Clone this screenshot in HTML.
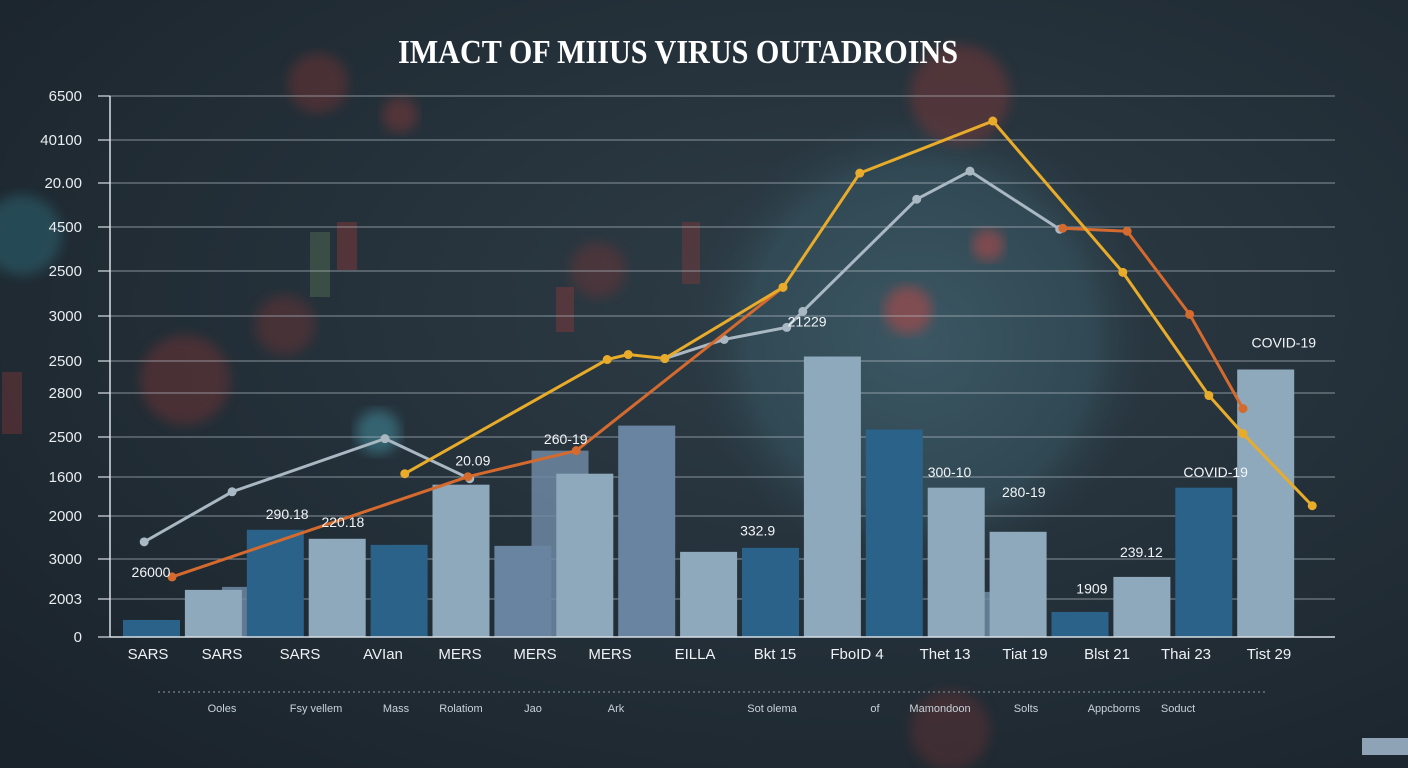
<!DOCTYPE html>
<html><head><meta charset="utf-8"><style>
html,body{margin:0;padding:0;background:#1e2830;}
svg{display:block;font-family:"Liberation Sans",sans-serif;}
</style></head><body>
<svg id="chart" width="1408" height="768" viewBox="0 0 1408 768">
<defs>
<radialGradient id="bg" cx="0.6" cy="0.4" r="0.8">
<stop offset="0" stop-color="#2e3d47"/><stop offset="1" stop-color="#1a232b"/></radialGradient>
<radialGradient id="vir" cx="0.5" cy="0.5" r="0.5">
<stop offset="0" stop-color="#3d5a66" stop-opacity="0.9"/><stop offset="0.75" stop-color="#34505c" stop-opacity="0.7"/><stop offset="1" stop-color="#2a3d47" stop-opacity="0"/></radialGradient>
<filter id="blur"><feGaussianBlur stdDeviation="6"/></filter>
</defs>
<rect width="1408" height="768" fill="url(#bg)"/>
<g>
<circle cx="920" cy="340" r="230" fill="url(#vir)"/>
<circle cx="960" cy="95" r="50" fill="#7a3838" opacity="0.5" filter="url(#blur)"/>
<circle cx="318" cy="83" r="30" fill="#7a3434" opacity="0.45" filter="url(#blur)"/>
<circle cx="400" cy="115" r="18" fill="#8a3a3a" opacity="0.45" filter="url(#blur)"/>
<circle cx="185" cy="380" r="45" fill="#7a3434" opacity="0.45" filter="url(#blur)"/>
<circle cx="285" cy="325" r="30" fill="#7a3434" opacity="0.4" filter="url(#blur)"/>
<circle cx="598" cy="270" r="28" fill="#7a3434" opacity="0.4" filter="url(#blur)"/>
<circle cx="22" cy="235" r="40" fill="#2f6a78" opacity="0.5" filter="url(#blur)"/>
<circle cx="378" cy="432" r="22" fill="#3f8595" opacity="0.6" filter="url(#blur)"/>
<circle cx="908" cy="310" r="24" fill="#b04a48" opacity="0.6" filter="url(#blur)"/>
<circle cx="988" cy="245" r="16" fill="#b04a48" opacity="0.6" filter="url(#blur)"/>
<circle cx="950" cy="730" r="40" fill="#7a3434" opacity="0.35" filter="url(#blur)"/>
<rect x="310" y="232" width="20" height="65" fill="#5a7a5a" opacity="0.4"/>
<rect x="337" y="222" width="20" height="48" fill="#8a3a3a" opacity="0.45"/>
<rect x="556" y="287" width="18" height="45" fill="#8a3a3a" opacity="0.45"/>
<rect x="682" y="222" width="18" height="62" fill="#8a3a3a" opacity="0.4"/>
<rect x="2" y="372" width="20" height="62" fill="#8a3a3a" opacity="0.4"/>
</g>
<text x="678" y="63" text-anchor="middle" fill="#ffffff" font-family="Liberation Serif, serif" font-weight="bold" font-size="34" textLength="560" lengthAdjust="spacingAndGlyphs">IMACT OF MIIUS VIRUS OUTADROINS</text>
<g id="grid"></g>
<g id="yticks"></g>
<g id="bars"></g>
<g id="lines"></g>
<g id="labels"></g>
<g id="xlabels"></g>
<line x1="110" y1="96" x2="110" y2="637" stroke="#d8dee4" stroke-width="1.5"/>
<line x1="110" y1="637" x2="1335" y2="637" stroke="#d8dee4" stroke-width="1.5"/>
<line x1="158" y1="692" x2="1268" y2="692" stroke="#8a98a4" stroke-width="1" stroke-dasharray="2,3"/>
<g id="footer"></g>
<rect x="1362" y="738" width="46" height="17" fill="#8ea3b5"/>
</svg>
<script>
const yTickLabels=["6500","40100","20.00","4500","2500","3000","2500","2800","2500","1600","2000","3000","2003","0"];
const barValues=[205,566,1288,1180,1107,1830,1095,1962,2540,1023,1071,3370,2492,1794,1264,301,722,1794,3214];
const barTypes=["dark","light","dark","light","dark","light","mid","light","mid","light","dark","light","dark","light","light","dark","light","dark","light"];
const shadowPos=[1.6,6.6,13.7];
const shadowValues=[602,2239,542];
const grayX=[-0.11,1.31,3.78,5.15,8.30,9.26,10.27,10.53,12.37,13.23,14.68];
const grayY=[1143,1745,2383,1902,3346,3575,3720,3912,5260,5597,4899];
const orangeX=[0.34,5.12,6.87,10.21,14.73,15.77,16.78,17.64];
const orangeY=[722,1926,2239,4201,4911,4875,3876,2744];
const yellowX=[4.10,7.37,7.71,8.30,10.21,11.45,13.60,15.70,17.09,17.64,18.76];
const yellowY=[1962,3334,3394,3346,4201,5573,6199,4381,2901,2444,1577];
const xLabels=["SARS","SARS","SARS","AVIan","MERS","MERS","MERS","EILLA","Bkt 15","FboID 4","Thet 13","Tiat 19","Blst 21","Thai 23","Tist 29"];
const xLabelPos=[148,222,300,383,460,535,610,695,775,857,945,1025,1107,1186,1269];
const valueLabels=["26000","290.18","220.18","20.09","260-19","332.9","21229","300-10","280-19","1909","239.12","COVID-19","COVID-19"];
const valueLabelX=[0.0,2.2,3.1,5.2,6.7,9.8,10.6,12.9,14.1,15.2,16.0,17.2,18.3];
const valueLabelV=[720,1420,1320,2060,2320,1220,3730,1920,1680,520,960,1920,3480];
const footerLabels=["Ooles","Fsy vellem","Mass","Rolatiom","Jao","Ark","Sot olema","of","Mamondoon","Solts","Appcborns","Soduct"];
const footerPos=[222,316,396,461,533,616,772,875,940,1026,1114,1178];

const NS="http://www.w3.org/2000/svg";
const gridYs=[96,140,183,227,271,316,361,393,437,477,516,559,599,637];
function y(v){return 637-v/6500*541;}
function xc(t){return 151+t*61.9;}
const colors={dark:"#2a6289",light:"#8fa9bc",mid:"#6984a0"};
function mk(tag,attrs,parent){const e=document.createElementNS(NS,tag);for(const k in attrs)e.setAttribute(k,attrs[k]);parent.appendChild(e);return e;}
const grid=document.getElementById('grid'),yt=document.getElementById('yticks');
yTickLabels.forEach((l,i)=>{
 if(i<13){const g=mk('line',{x1:110,x2:1335,y1:gridYs[i],y2:gridYs[i],stroke:"#c4ccd4","stroke-opacity":0.5,"stroke-width":1.2},grid);
 
 }
 const tk=mk('line',{x1:98,x2:110,y1:gridYs[i],y2:gridYs[i],stroke:"#d8dee4","stroke-width":1.2},yt);
 
 
 const t=mk('text',{x:82,y:gridYs[i]+5,"text-anchor":"end",fill:"#e8edf1","font-size":15},yt);
 t.textContent=l;
 
 
});
const bars=document.getElementById('bars');
shadowValues.forEach((v,i)=>{
 const r=mk('rect',{x:xc(shadowPos[i])-28,y:y(v),width:57,height:637-y(v),fill:"#6f88a2",opacity:0.85},bars);
 
 
});
barValues.forEach((v,i)=>{
 const r=mk('rect',{x:xc(i)-28,y:y(v),width:57,height:637-y(v),fill:colors[barTypes[i]]},bars);
 
 
});
const lines=document.getElementById('lines');
function series(xs,ys,color,name,gapAfter){
 const segs=[[]];
 xs.forEach((t,i)=>{segs[segs.length-1].push(xc(t)+","+y(ys[i])); if(i===gapAfter){segs.push([xc(xs[i+1])+","+y(ys[i+1])]);}});
 segs.forEach(s=>{
  if(s.length<2)return;
  const p=mk('polyline',{points:s.join(" "),fill:"none",stroke:color,"stroke-width":3,"stroke-linejoin":"round"},lines);
  
  
 });
 xs.forEach((t,i)=>{
  const c=mk('circle',{cx:xc(t),cy:y(ys[i]),r:4.5,fill:color},lines);
  
  
 });
}
series(grayX,grayY,"#a9b8c2","gray-series",3);
series(orangeX,orangeY,"#d56a2e","orange-series",3);
series(yellowX,yellowY,"#e8ac2a","yellow-series",-1);
const labels=document.getElementById('labels');
valueLabels.forEach((l,i)=>{
 const t=mk('text',{x:xc(valueLabelX[i]),y:y(valueLabelV[i]),"text-anchor":"middle",fill:"#f2f5f7","font-size":14},labels);
 t.textContent=l;
 
 
});
const xl=document.getElementById('xlabels');
xLabels.forEach((l,i)=>{
 const t=mk('text',{x:xLabelPos[i],y:659,"text-anchor":"middle",fill:"#eef2f5","font-size":15},xl);
 t.textContent=l;
 
 
});
const ft=document.getElementById('footer');
footerLabels.forEach((l,i)=>{
 const t=mk('text',{x:footerPos[i],y:712,"text-anchor":"middle",fill:"#c9d2d9","font-size":11},ft);
 t.textContent=l;
 
 
});
</script>
</body></html>
